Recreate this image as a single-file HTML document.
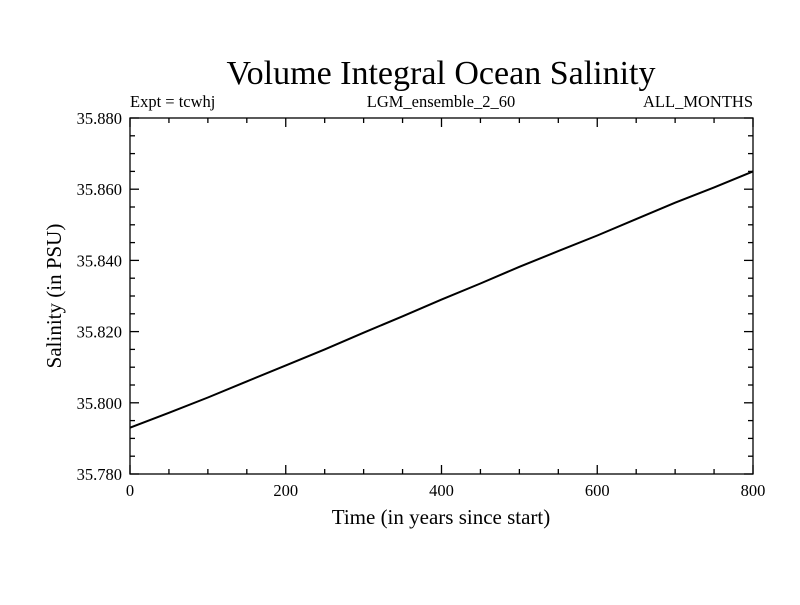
<!DOCTYPE html>
<html><head><meta charset="utf-8"><style>
html,body{margin:0;padding:0;background:#fff;}
svg text{font-family:"Liberation Serif",serif;fill:#000;}
</style></head><body>
<svg id="chart" width="800" height="600" viewBox="0 0 800 600" xmlns="http://www.w3.org/2000/svg">
<rect width="800" height="600" fill="#fff"/>
<text x="441" y="84" font-size="34" text-anchor="middle">Volume Integral Ocean Salinity</text>
<text x="130" y="107" font-size="16.5">Expt = tcwhj</text>
<text x="441" y="107" font-size="16.5" text-anchor="middle">LGM_ensemble_2_60</text>
<text x="753" y="107" font-size="16.5" text-anchor="end">ALL_MONTHS</text>
<text x="441" y="524" font-size="21" text-anchor="middle">Time (in years since start)</text>
<text transform="translate(61,296) rotate(-90)" font-size="21" text-anchor="middle">Salinity (in PSU)</text>
<rect x="130" y="118" width="623" height="356" fill="none" stroke="#000" stroke-width="1.3"/>
<g id="ticks"></g>
<g id="labels"></g>
<path id="line" fill="none" stroke="#000" stroke-width="2"/>
</svg>
<script>
const years = [0,50,100,150,200,250,300,350,400,450,500,550,600,650,700,750,800];
const salinity = [35.793,35.7972,35.8015,35.806,35.8105,35.815,35.8197,35.8243,35.829,35.8335,35.8382,35.8426,35.847,35.8516,35.8562,35.8605,35.865];
const xTicks = [0,200,400,600,800];
const yTicks = [35.78,35.80,35.82,35.84,35.86,35.88];
const yTickLabels = ["35.780","35.800","35.820","35.840","35.860","35.880"];
const X0=130,X1=753,Y0=474,Y1=118;
const xs=v=>X0+(v-0)/(800-0)*(X1-X0);
const ys=v=>Y0-(v-35.78)/(0.10)*(Y0-Y1);
const NS="http://www.w3.org/2000/svg";
const tg=document.getElementById('ticks'), lg=document.getElementById('labels');
function ln(x1,y1,x2,y2,name){const l=document.createElementNS(NS,'line');
l.setAttribute('x1',x1);l.setAttribute('y1',y1);l.setAttribute('x2',x2);l.setAttribute('y2',y2);
l.setAttribute('stroke','#000');l.setAttribute('stroke-width','1.3');


tg.appendChild(l);}
for(let v=0;v<=800;v+=50){const x=xs(v);const len=v%200===0?9:5;
ln(x,Y0,x,Y0-len,'x-tick');ln(x,Y1,x,Y1+len,'x-tick-top');}
for(let i=0;i<=20;i++){const v=35.78+i*0.005;const y=ys(v);const len=i%4===0?9:5;
ln(X0,y,X0+len,y,'y-tick');ln(X1,y,X1-len,y,'y-tick-right');}
xTicks.forEach(v=>{const t=document.createElementNS(NS,'text');
t.setAttribute('x',xs(v));t.setAttribute('y',Y0+22);t.setAttribute('font-size','16.5');t.setAttribute('text-anchor','middle');


t.textContent=v;lg.appendChild(t);});
yTicks.forEach((v,i)=>{const t=document.createElementNS(NS,'text');
t.setAttribute('x',X0-8);t.setAttribute('y',ys(v)+6);t.setAttribute('font-size','16.5');t.setAttribute('text-anchor','end');


t.textContent=yTickLabels[i];lg.appendChild(t);});
document.getElementById('line').setAttribute('d',years.map((y,i)=>(i?'L':'M')+xs(y).toFixed(1)+','+ys(salinity[i]).toFixed(1)).join(''));
</script>
</body></html>
